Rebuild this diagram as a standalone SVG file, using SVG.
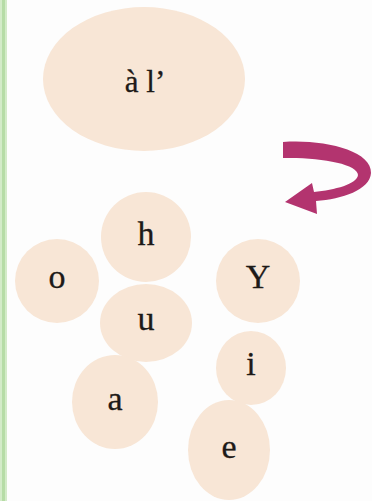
<svg xmlns="http://www.w3.org/2000/svg" width="372" height="501" viewBox="0 0 372 501">
<style>
.n{fill:#f8e6d6}
.t{font-family:"Liberation Serif","Times New Roman",serif;fill:#1e1a18;text-anchor:middle;stroke:#1e1a18;stroke-width:0.3}
.s{font-size:34px}
</style>
<rect width="372" height="501" fill="#fdfdfd"/>
<rect x="0" y="0" width="7" height="501" fill="#d3ebc8"/>
<rect x="2" y="0" width="3" height="501" fill="#b6dca6"/>
<g id="top"><ellipse class="n" cx="144" cy="79" rx="101" ry="72"/><text class="t" x="145" y="92" font-size="31">à l’</text></g>
<g id="connectors">
<path d="M283,142 C322,139 372,150 371,173 C370,190 342,199 316,201 L317,214 L285,202 L312,183 L314,192 C335,190 357,184 358,175 C358,164 320,157 283,158 Z" fill="#b3346f"/>
</g>
<g id="h"><circle class="n" cx="146" cy="237" r="45"/><text class="t s" x="146" y="245">h</text></g>
<g id="o"><circle class="n" cx="57" cy="281" r="42"/><text class="t s" x="57" y="288">o</text></g>
<g id="Y"><circle class="n" cx="258" cy="281" r="42"/><text class="t s" x="258" y="288">Y</text></g>
<g id="u"><ellipse class="n" cx="146" cy="323" rx="46" ry="39"/><text class="t s" x="146" y="330">u</text></g>
<g id="a"><ellipse class="n" cx="115" cy="402" rx="43" ry="47"/><text class="t s" x="115" y="410">a</text></g>
<g id="i"><ellipse class="n" cx="251" cy="368" rx="35" ry="37"/><text class="t s" x="251" y="375">i</text></g>
<g id="e"><ellipse class="n" cx="229" cy="450" rx="41" ry="50"/><text class="t s" x="229" y="458">e</text></g>
</svg>
